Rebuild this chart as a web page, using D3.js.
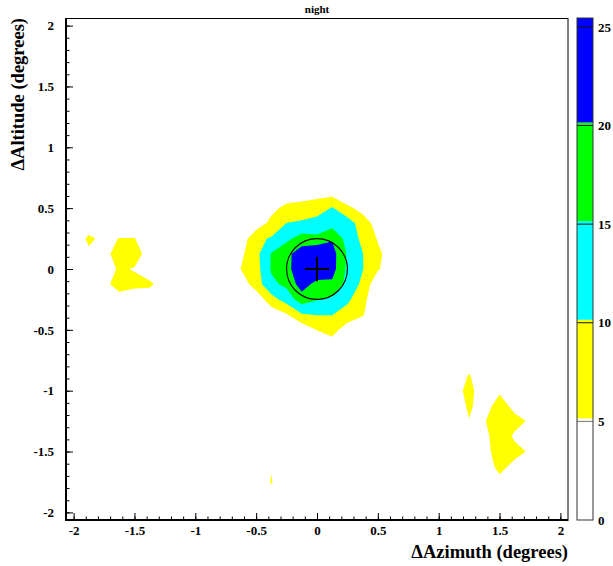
<!DOCTYPE html>
<html><head><meta charset="utf-8">
<script src="https://cdn.jsdelivr.net/npm/d3@7"></script>
<style>body{margin:0;background:#fff}svg{display:block}</style>
</head><body>
<script>
// ---------------- data ----------------
const title = "night";
const xTitle = "\u0394Azimuth (degrees)";
const yTitle = "\u0394Altitude (degrees)";
const binLow = -2.0625, binHigh = 2.0625, nBins = 33;          // 33 bins of 0.125 deg
const levels = [5, 10, 15, 20];
const levelColors = ["#ffff00", "#00ffff", "#00ff00", "#0000ff"];
const zMin = 0, zMax = 25.45;
const paletteTicks = [0, 5, 10, 15, 20, 25];
const axisTicks = [-2, -1.5, -1, -0.5, 0, 0.5, 1, 1.5, 2];
const minorStep = 0.1;
const sourcePos = [0, 0];
const circleRadius = 0.25;
const crossHalf = 0.1;

// counts per bin; i0 = bin index (-16..16) of first column, j0 = bin index of top row
const centralPatch = { i0: -6, j0: 6, rows: [
  [0,0,0,0,0,0,0,0,0,0,0,0,0],
  [0,0,0,0.3,1.5,3.7,3.7,3.2,0.2,0.5,0,0,0],
  [0,0,0.5,3.5,6.5,6,6.9,10.5,6.2,3.3,0.8,0,0],
  [0,0.5,2,6.5,10.1,11,12.5,12.8,12.5,7.5,3,0.5,0],
  [0,1.9,8.8,10.5,13.8,17,15.9,19.5,13,8.9,4.6,1,0],
  [0.5,4,8.5,15.3,18.5,23,25.45,22,14.5,10.1,6,2.5,0],
  [1,5.1,8,15.5,18.5,23.5,25,22,14,10.2,5.5,2,0],
  [0,2,7.5,14,16,22.5,18.1,19,13.4,8.9,1.1,0,0],
  [0,0,1.5,8,12.2,17.5,15.3,14,11,6.5,1,0,0],
  [0,0,0,2,4.5,9.5,10.2,10.1,7.9,5.5,0,0,0],
  [0,0,0,0,0.5,1.5,5.2,7,2.4,1,0,0,0],
  [0,0,0,0,0,0,0.5,2.5,0,0,0,0,0],
  [0,0,0,0,0,0,0,0,0,0,0,0,0]
]};
const westPatch = { i0: -15, j0: 3, rows: [
  [0,0,0,0,0,0],
  [6.5,3,5.2,5.2,1,0],
  [3.5,2,9,9,1,0],
  [0.5,1,6,4.5,0.5,0],
  [0,3,8,7,6.5,1],
  [0,1,2,0,0,0],
  [0,0,0,0,0,0]
]};
const southEastPatch = { i0: 9, j0: -6, rows: [
  [0,1,0,0,0,0],
  [0,5.5,0,0,0,0],
  [1.5,7.5,0,4,0,0],
  [1,6,2,8,3,0],
  [0,4.8,4.5,9.5,7,4.2],
  [0,0,3,9,4,0],
  [0,0,2,9,7,4.2],
  [0,0,1,7,3,0],
  [0,0,0,3,0,0]
]};
const southSpeck = { i0: -3, j0: -13, rows: [[4.6],[5.4],[3]] };
const patches = [centralPatch, westPatch, southEastPatch, southSpeck];

// ---------------- layout ----------------
const W = 613, H = 566;
const frame = { left: 66, right: 568, top: 18, bottom: 520 };
const pal = { left: 577, right: 593 };
const font = "'Liberation Serif','Times New Roman',serif";

const svg = d3.select("body").append("svg").attr("width", W).attr("height", H);

const xs = d3.scaleLinear().domain([binLow, binHigh]).range([frame.left, frame.right]);
const ys = d3.scaleLinear().domain([binLow, binHigh]).range([frame.bottom, frame.top]);
const bw = (binHigh - binLow) / nBins;
const half = (nBins - 1) / 2;

// build the grid (row 0 = top)
const grid = new Array(nBins * nBins).fill(0);
patches.forEach(p => p.rows.forEach((row, r) => row.forEach((v, c) => {
  const i = p.i0 + c, j = p.j0 - r;
  const gx = i + half, gy = half - j;
  grid[gy * nBins + gx] = v;
})));

const contours = d3.contours().size([nBins, nBins]).thresholds(levels)(grid);
const proj = d3.geoTransform({
  point(x, y) { this.stream.point(xs(binLow + x * bw), ys(binHigh - y * bw)); }
});
const path = d3.geoPath(proj);

svg.append("g").selectAll("path").data(contours).join("path")
  .attr("d", path)
  .attr("fill", (d, k) => levelColors[k])
  .attr("stroke", "none");

// source circle and cross
svg.append("circle")
  .attr("cx", xs(sourcePos[0])).attr("cy", ys(sourcePos[1]))
  .attr("r", xs(circleRadius) - xs(0))
  .attr("fill", "none").attr("stroke", "#000").attr("stroke-width", 1.1);
svg.append("line")
  .attr("x1", xs(sourcePos[0] - crossHalf)).attr("x2", xs(sourcePos[0] + crossHalf))
  .attr("y1", ys(sourcePos[1])).attr("y2", ys(sourcePos[1]))
  .attr("stroke", "#000").attr("stroke-width", 2);
svg.append("line")
  .attr("x1", xs(sourcePos[0])).attr("x2", xs(sourcePos[0]))
  .attr("y1", ys(sourcePos[1] - crossHalf)).attr("y2", ys(sourcePos[1] + crossHalf))
  .attr("stroke", "#000").attr("stroke-width", 2);

// frame
svg.append("rect")
  .attr("x", frame.left).attr("y", frame.top + 0.5)
  .attr("width", frame.right - frame.left).attr("height", frame.bottom - frame.top)
  .attr("fill", "none").attr("stroke", "#000").attr("stroke-width", 1);

// axes
const minorVals = d3.range(-20, 21).map(k => k * minorStep);
const fmt = d => String(+d.toFixed(2));
function styleAxis(g) {
  g.select(".domain").remove();
  g.selectAll("line").attr("stroke", "#000").attr("stroke-width", 1);
  g.selectAll("text").attr("font-family", font).attr("font-weight", "bold")
    .attr("font-size", 13).attr("fill", "#000");
}
svg.append("g").attr("transform", `translate(0,${frame.bottom})`)
  .call(d3.axisBottom(xs).tickValues(minorVals).tickSize(-3.5).tickFormat(""))
  .call(styleAxis);
svg.append("g").attr("transform", `translate(0,${frame.bottom})`)
  .call(d3.axisBottom(xs).tickValues(axisTicks).tickSize(-7).tickPadding(6).tickFormat(fmt))
  .call(styleAxis);
svg.append("g").attr("transform", `translate(${frame.left},0)`)
  .call(d3.axisLeft(ys).tickValues(minorVals).tickSize(-3.5).tickFormat(""))
  .call(styleAxis);
svg.append("g").attr("transform", `translate(${frame.left},0)`)
  .call(d3.axisLeft(ys).tickValues(axisTicks).tickSize(-7).tickPadding(12).tickFormat(fmt))
  .call(styleAxis);

// thick axis lines
svg.append("line").attr("x1", frame.left).attr("x2", frame.left)
  .attr("y1", frame.top).attr("y2", frame.bottom + 1)
  .attr("stroke", "#000").attr("stroke-width", 2);
svg.append("line").attr("x1", frame.left - 1).attr("x2", frame.right)
  .attr("y1", frame.bottom).attr("y2", frame.bottom)
  .attr("stroke", "#000").attr("stroke-width", 2);

// titles
svg.append("text").attr("x", (frame.left + frame.right) / 2).attr("y", 13)
  .attr("text-anchor", "middle").attr("font-family", font).attr("font-weight", "bold")
  .attr("font-size", 11).text(title);
svg.append("text").attr("x", frame.right).attr("y", 558)
  .attr("text-anchor", "end").attr("font-family", font).attr("font-weight", "bold")
  .attr("font-size", 18.5).text(xTitle);
svg.append("text").attr("transform", `translate(24,${frame.top}) rotate(-90)`)
  .attr("text-anchor", "end").attr("font-family", font).attr("font-weight", "bold")
  .attr("font-size", 18.5).text(yTitle);

// palette
const zs = d3.scaleLinear().domain([zMin, zMax]).range([frame.bottom, frame.top]);
const bands = [zMin, ...levels, zMax];
const bandColors = ["#ffffff", ...levelColors];
const shift = 3;
const pg = svg.append("g");
bands.slice(0, -1).forEach((lo, k) => {
  const hi = bands[k + 1];
  const top = k === bands.length - 2 ? frame.top : zs(hi) - shift;
  const bot = k === 0 ? frame.bottom : zs(lo) - shift;
  pg.append("rect").attr("x", pal.left).attr("y", top)
    .attr("width", pal.right - pal.left).attr("height", bot - top)
    .attr("fill", bandColors[k]);
});
paletteTicks.slice(1).forEach(v => {
  pg.append("line").attr("x1", pal.left).attr("x2", pal.right)
    .attr("y1", zs(v)).attr("y2", zs(v))
    .attr("stroke", v === 5 ? "#777" : "#111").attr("stroke-width", 1);
});
pg.append("rect").attr("x", pal.left).attr("y", frame.top)
  .attr("width", pal.right - pal.left).attr("height", frame.bottom - frame.top)
  .attr("fill", "none").attr("stroke", "#333").attr("stroke-width", 1);
svg.append("g").attr("transform", `translate(${pal.right},0)`)
  .call(d3.axisRight(zs).tickValues(paletteTicks).tickSize(0).tickPadding(5).tickFormat(d => String(d)))
  .call(styleAxis);
</script>
</body></html>
